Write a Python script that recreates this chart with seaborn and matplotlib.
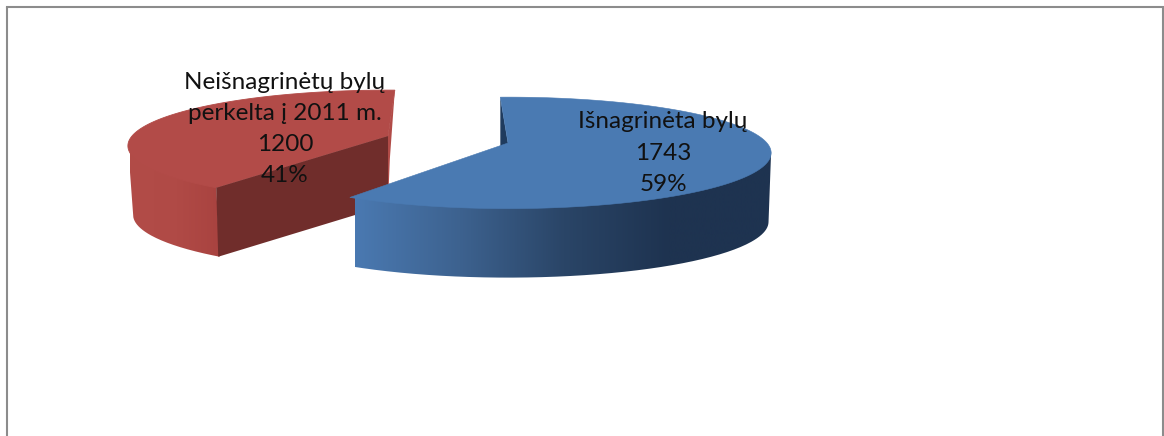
import numpy as np
import matplotlib
matplotlib.use("Agg")
import matplotlib.pyplot as plt
from matplotlib.path import Path
from matplotlib.patches import PathPatch
import seaborn as sns

categories = ["Išnagrinėta bylų", "Neišnagrinėtų bylų\nperkelta į 2011 m."]
values = [1743, 1200]
percents = ["59%", "41%"]

sns.set_theme(style="white")
plt.rcParams["font.family"] = ["Lato", "DejaVu Sans"]

W, H = 1164, 436
fig = plt.figure(figsize=(W / 100, H / 100), dpi=100, facecolor="white")
ax = fig.add_axes([0, 0, 1, 1])
ax.set_axis_off()

KP = 0.177
DEPTH = 69
fracs = np.array(values) / sum(values)
blue_span = 360 * fracs[0]
red_span = 360 * fracs[1]


def proj(theta, cx, cy, rx, ry=54):
    t = np.radians(theta)
    w = 1 + KP * np.cos(t)
    return cx + rx * np.sin(t) / w, cy - ry * np.cos(t) / w


def arc(a, b, cx, cy, rx):
    th = np.linspace(a, b, 240)
    return proj(th, cx, cy, rx)


def lower(x, y, cx, shrink=0.98):
    return cx + (x - cx) * shrink, y + DEPTH


def grad_face(xs, ys, stops, x0, x1):
    cmap = sns.blend_palette(stops, as_cmap=True)
    g = np.linspace(0, 1, 512)[None, :]
    im = ax.imshow(g, cmap=cmap, extent=(x0, x1, H, 0), aspect="auto",
                   interpolation="bilinear", zorder=ax_z[0])
    verts = np.column_stack([xs, ys])
    patch = PathPatch(Path(np.vstack([verts, verts[0]])), transform=ax.transData,
                      fc="none", ec="none")
    ax.add_patch(patch)
    im.set_clip_path(patch)
    ax_z[0] += 1


ax_z = [1]

# red slice
rc = (388, 136, 256)
ra = blue_span + 1.8
rb = ra + red_span
rx_top, ry_top = arc(ra, rb, *rc)
ex, ey = proj(ra, *rc)
fx, fy = proj(rb, *rc)
sx, sy = arc(ra, rb, *rc)
cut = int(np.argmin(sx)) + 1
sx, sy = sx[:cut], sy[:cut]
bx, by = lower(sx, sy, rc[0])
grad_face(np.r_[sx, bx[::-1]], np.r_[sy - 2, by[::-1]],
          ["#b24c48", "#b04a46", "#a8423f"], 130, 225)
ax.fill([fx, fx - 5, rc[0], rc[0]], [fy, fy + DEPTH, rc[1] + DEPTH, rc[1]],
        color="#b14b47", lw=0, zorder=20)
ax.fill(np.r_[rc[0], rx_top], np.r_[rc[1], ry_top], facecolor="#b24b48",
        edgecolor="#b24b48", lw=0.6, zorder=21)
ax.fill([rc[0], ex, ex + 2, rc[0]], [rc[1], ey, ey + DEPTH, rc[1] + DEPTH],
        color="#702d2b", lw=0, zorder=22)

# blue slice
ax_z[0] = 30
bc = (508, 143, 259)
ba = -2.0
bb = ba + blue_span
tx, ty = arc(ba, bb, *bc)
ex, ey = proj(bb, *bc)
fx, fy = proj(ba, *bc)
ax.fill([fx, fx, bc[0], bc[0]], [fy, fy + DEPTH, bc[1] + DEPTH, bc[1]],
        color="#1f3b5e", lw=0, zorder=29)
sx, sy = tx.copy(), ty.copy()
cut = int(np.argmax(sx))
sx, sy = sx[cut:], sy[cut:]
bx, by = lower(sx, sy, bc[0], shrink=0.99)
grad_face(np.r_[sx, bx[::-1]], np.r_[sy - 2, by[::-1]],
          ["#4a79b1", "#3d628f", "#2a4567", "#1e3350", "#1e3350"], 355, 773)
ax.fill(np.r_[bc[0], tx], np.r_[bc[1], ty], facecolor="#4a7ab2",
        edgecolor="#4a7ab2", lw=0.4, zorder=40)

# labels
ax.text(663, 153, f"{categories[0]}\n{values[0]}\n{percents[0]}", ha="center", va="center",
        fontsize=17.5, color="#111111", linespacing=1.59, zorder=50)
ax.text(285, 129, f"{categories[1]}\n{values[1]}\n{percents[1]}", ha="center", va="center",
        fontsize=17.5, color="#111111", linespacing=1.59, zorder=50)

# frame
ax.plot([7, 7], [H, 7], color="#8c8c8c", lw=1.5, zorder=60, solid_capstyle="butt")
ax.plot([7, 1162.5], [7, 7], color="#8c8c8c", lw=1.5, zorder=60, solid_capstyle="projecting")
ax.plot([1162.5, 1162.5], [7, H], color="#8c8c8c", lw=1.5, zorder=60, solid_capstyle="butt")

ax.set_xlim(0, W)
ax.set_ylim(H, 0)
fig.savefig("out.png", dpi=100, facecolor="white")
